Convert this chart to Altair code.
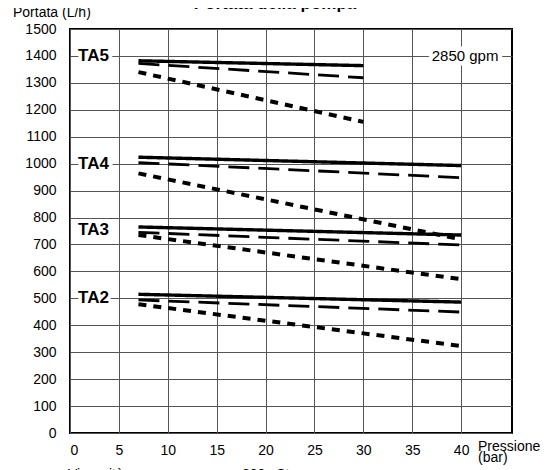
import altair as alt
import pandas as pd

# ---- data ----
models = ["TA2", "TA3", "TA4", "TA5"]
p_start = [7, 7, 7, 7]
p_end = [40, 40, 40, 30]
solid_start = [515, 765, 1024, 1382]
solid_end = [486, 735, 993, 1364]
dashed_start = [494, 745, 1004, 1372]
dashed_end = [449, 698, 948, 1319]
dotted_start = [478, 735, 964, 1340]
dotted_end = [323, 571, 719, 1155]
curves = ["solid", "dashed", "dotted"]

label_p = [2.4, 2.4, 2.4, 2.4]
label_flow = [501, 754, 1000, 1400]

note_text = ["2850 gpm"]
note_p = [40.4]
note_flow = [1400]

x_ticks = [0, 5, 10, 15, 20, 25, 30, 35, 40]
y_ticks = list(range(0, 1501, 100))

FONT = "Liberation Sans"

rows = []
for i, m in enumerate(models):
    for c, s, e in zip(curves,
                       [solid_start[i], dashed_start[i], dotted_start[i]],
                       [solid_end[i], dashed_end[i], dotted_end[i]]):
        rows.append({"model": m, "curve": c, "p": p_start[i], "flow": s})
        rows.append({"model": m, "curve": c, "p": p_end[i], "flow": e})
df = pd.DataFrame(rows)

labels = pd.DataFrame({"model": models, "p": label_p, "flow": label_flow})
notes = pd.DataFrame({"text": note_text, "p": note_p, "flow": note_flow})

W, H = 442, 404

x_enc = alt.X("p:Q", scale=alt.Scale(domain=[0, 45.2], nice=False, zero=False),
              axis=alt.Axis(values=x_ticks, title=None, grid=True, ticks=False,
                            domain=False, labelFontSize=14, labelPadding=10,
                            labelFont=FONT, labelColor="black", gridColor="#555",
                            gridWidth=1, gridOpacity=1, format="d", labelOverlap=False))
y_enc = alt.Y("flow:Q", scale=alt.Scale(domain=[0, 1500], nice=False),
              axis=alt.Axis(values=y_ticks, title=None, grid=True, ticks=False,
                            domain=False, labelFontSize=14, labelPadding=14,
                            labelFont=FONT, labelColor="black", gridColor="#555",
                            gridWidth=1, gridOpacity=1, format="d", labelOverlap=False))

styles = {"solid": ([1, 0], 3.4), "dashed": ([21, 9], 2.8), "dotted": ([8, 7], 4.0)}
line_layers = []
for c in curves:
    dash, width = styles[c]
    line_layers.append(
        alt.Chart(df).transform_filter(alt.datum.curve == c)
        .mark_line(color="black", strokeDash=dash, strokeWidth=width)
        .encode(x=x_enc, y=y_enc, detail="model:N")
    )

lab_halo = alt.Chart(labels).mark_text(font=FONT, fontSize=17, fontWeight="bold", color="white",
                                       stroke="white", strokeWidth=7, strokeJoin="round").encode(
    x=x_enc, y=y_enc, text="model:N")
lab_text = alt.Chart(labels).mark_text(font=FONT, fontSize=17, fontWeight="bold", color="black").encode(
    x=x_enc, y=y_enc, text="model:N")

note_halo = alt.Chart(notes).mark_text(font=FONT, fontSize=15, color="white",
                                       stroke="white", strokeWidth=9, strokeJoin="round").encode(
    x=x_enc, y=y_enc, text="text:N")
note_txt = alt.Chart(notes).mark_text(font=FONT, fontSize=15, color="black").encode(
    x=x_enc, y=y_enc, text="text:N")

def ann(text, x, y, size=14, weight="normal", align="left"):
    return alt.Chart(pd.DataFrame({"t": [text]})).mark_text(
        font=FONT, fontSize=size, fontWeight=weight, align=align,
        baseline="alphabetic", color="black").encode(
        x=alt.value(x), y=alt.value(y), text="t:N")

title = ann("Portata della pompa", 205, -20, size=17, weight="bold", align="center")
ylab = ann("Portata (L/h)", -57, -12, size=14)
xlab1 = ann("Pressione", 408, H + 18, size=14)
xlab2 = ann("(bar)", 408, H + 29, size=14)
visc1 = ann("Viscosità", -2, H + 46, size=14)
visc2 = ann("200 cSt", 172, H + 46, size=14)

chart = alt.layer(*line_layers, lab_halo, lab_text, note_halo, note_txt,
                  title, ylab, xlab1, xlab2, visc1, visc2).properties(
    width=W, height=H,
    autosize=alt.AutoSizeParams(type="none"),
    padding={"left": 62, "top": 21, "right": 33, "bottom": 37},
).configure_view(stroke="black", strokeWidth=2)

chart.save("out.html", embed_options={"renderer": "svg", "actions": False})
